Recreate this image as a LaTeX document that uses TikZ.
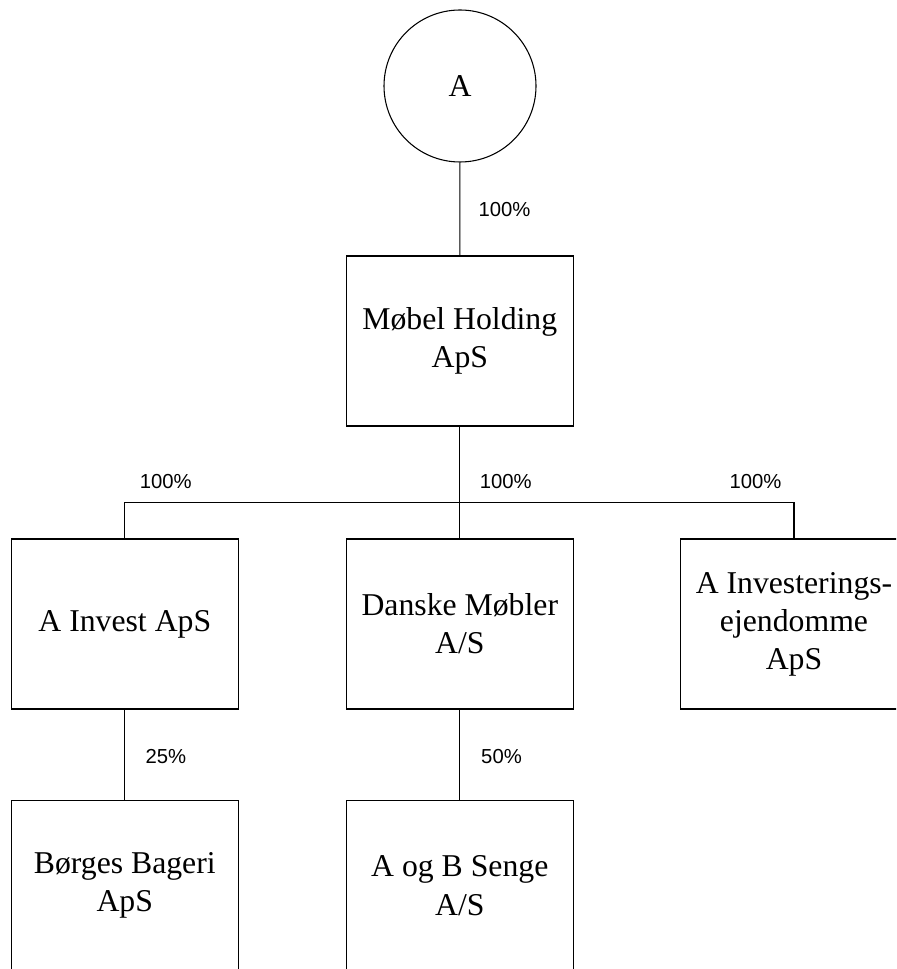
\documentclass[tikz,border=0pt]{standalone}
\usepackage{fontspec}
\setmainfont{Liberation Serif}
\newfontfamily\pctfont{Liberation Sans}
\begin{document}
\begin{tikzpicture}[x=0.75pt,y=-0.75pt,
  line width=0.8pt,
  company/.style={draw, rectangle, minimum width=170.25pt, minimum height=127.5pt,
    inner sep=0pt, align=center, font=\fontsize{23.8}{28.6}\selectfont},
  owner/.style={draw, circle, minimum size=114pt, inner sep=0pt,
    font=\fontsize{23.8}{28.6}\selectfont},
  share/.style={anchor=base west, inner sep=0pt, font=\pctfont\fontsize{15.2}{18}\selectfont}]
  \useasboundingbox (0,0) rectangle (896,969);
  \clip (0,0) rectangle (896,969);

  % owner and holding company
  \node[owner] (a) at (460,86) {A};
  \node[company] (holding) at (459.8,341) {Møbel Holding\\ApS};

  % subsidiaries
  \node[company] (invest) at (124.8,624) {A Invest ApS};
  \node[company] (danske) at (459.8,624) {Danske Møbler\\A/S};
  \node[company] (eje) at (794,624) {A Investerings-\\ejendomme\\ApS};

  % associated companies
  \node[company] (borges) at (124.8,885.7) {Børges Bageri\\ApS};
  \node[company] (senge) at (459.8,885.7) {A og B Senge\\A/S};

  % ownership lines
  \coordinate (bus) at (459.8,502.3);
  \draw (a) -- (holding);
  \draw (holding.south) -- (bus);
  \draw (invest.north) |- (bus) -| (eje.north);
  \draw (bus) -- (danske.north);
  \draw (invest.south) -- (borges.north);
  \draw (danske.south) -- (senge.north);

  % ownership shares
  \node[share] (p1) at (478,216.7) {100\%};
  \node[share] (p2) at (139.3,488) {100\%};
  \node[share] (p3) at (479.3,488) {100\%};
  \node[share] (p4) at (729,488) {100\%};
  \node[share] (p5) at (145,763) {25\%};
  \node[share] (p6) at (480.7,763) {50\%};
\end{tikzpicture}
\end{document}
